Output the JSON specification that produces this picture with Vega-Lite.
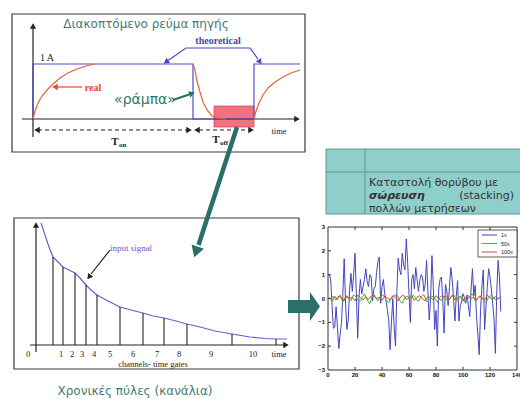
{
  "$schema": "https://vega.github.io/schema/vega-lite/v6.json",
  "width": 520,
  "height": 399,
  "autosize": {"type": "none"},
  "padding": 0,
  "background": "white",
  "config": {"view": {"stroke": null}},
  "datasets": {
    "noise": [
      {"s":"1x","t":1,"v":1.0},{"s":"1x","t":2,"v":0.8},{"s":"1x","t":3,"v":-0.3},{"s":"1x","t":4,"v":-1.25},{"s":"1x","t":5,"v":-1.2},{"s":"1x","t":6,"v":-0.35},{"s":"1x","t":7,"v":-1.2},{"s":"1x","t":8,"v":-2.1},{"s":"1x","t":9,"v":-1.5},{"s":"1x","t":10,"v":-1.0},
      {"s":"1x","t":11,"v":0.2},{"s":"1x","t":12,"v":1.67},{"s":"1x","t":13,"v":-0.2},{"s":"1x","t":14,"v":-1.3},{"s":"1x","t":15,"v":-0.9},{"s":"1x","t":16,"v":0.35},{"s":"1x","t":17,"v":1.05},{"s":"1x","t":18,"v":0.3},{"s":"1x","t":19,"v":1.0},{"s":"1x","t":20,"v":1.9},
      {"s":"1x","t":21,"v":0.2},{"s":"1x","t":22,"v":-1.67},{"s":"1x","t":23,"v":0.1},{"s":"1x","t":24,"v":0.8},{"s":"1x","t":25,"v":0.2},{"s":"1x","t":26,"v":0.5},{"s":"1x","t":27,"v":0.8},{"s":"1x","t":28,"v":1.25},{"s":"1x","t":29,"v":0.7},{"s":"1x","t":30,"v":0.5},
      {"s":"1x","t":31,"v":1.0},{"s":"1x","t":32,"v":0.9},{"s":"1x","t":33,"v":-0.1},{"s":"1x","t":34,"v":0.4},{"s":"1x","t":35,"v":0.5},{"s":"1x","t":36,"v":1.1},{"s":"1x","t":37,"v":1.55},{"s":"1x","t":38,"v":1.74},{"s":"1x","t":39,"v":-0.2},{"s":"1x","t":40,"v":0.5},
      {"s":"1x","t":41,"v":0.8},{"s":"1x","t":42,"v":0.2},{"s":"1x","t":43,"v":-0.1},{"s":"1x","t":44,"v":-0.5},{"s":"1x","t":45,"v":-0.9},{"s":"1x","t":46,"v":-2.15},{"s":"1x","t":47,"v":-1.0},{"s":"1x","t":48,"v":0.0},{"s":"1x","t":49,"v":-1.2},{"s":"1x","t":50,"v":-2.0},
      {"s":"1x","t":51,"v":0.3},{"s":"1x","t":52,"v":1.7},{"s":"1x","t":53,"v":1.2},{"s":"1x","t":54,"v":1.0},{"s":"1x","t":55,"v":1.9},{"s":"1x","t":56,"v":1.4},{"s":"1x","t":57,"v":1.2},{"s":"1x","t":58,"v":2.5},{"s":"1x","t":59,"v":1.5},{"s":"1x","t":60,"v":0.2},
      {"s":"1x","t":61,"v":-1.0},{"s":"1x","t":62,"v":0.8},{"s":"1x","t":63,"v":1.0},{"s":"1x","t":64,"v":0.4},{"s":"1x","t":65,"v":1.3},{"s":"1x","t":66,"v":0.8},{"s":"1x","t":67,"v":0.3},{"s":"1x","t":68,"v":0.76},{"s":"1x","t":69,"v":1.0},{"s":"1x","t":70,"v":0.9},
      {"s":"1x","t":71,"v":0.3},{"s":"1x","t":72,"v":0.6},{"s":"1x","t":73,"v":1.6},{"s":"1x","t":74,"v":0.3},{"s":"1x","t":75,"v":-0.9},{"s":"1x","t":76,"v":0.0},{"s":"1x","t":77,"v":1.8},{"s":"1x","t":78,"v":0.5},{"s":"1x","t":79,"v":-1.3},{"s":"1x","t":80,"v":-0.5},
      {"s":"1x","t":81,"v":-2.0},{"s":"1x","t":82,"v":0.4},{"s":"1x","t":83,"v":0.8},{"s":"1x","t":84,"v":0.9},{"s":"1x","t":85,"v":0.0},{"s":"1x","t":86,"v":-1.45},{"s":"1x","t":87,"v":0.6},{"s":"1x","t":88,"v":0.3},{"s":"1x","t":89,"v":-0.3},{"s":"1x","t":90,"v":0.5},
      {"s":"1x","t":91,"v":1.3},{"s":"1x","t":92,"v":0.8},{"s":"1x","t":93,"v":0.0},{"s":"1x","t":94,"v":-0.95},{"s":"1x","t":95,"v":0.1},{"s":"1x","t":96,"v":0.75},{"s":"1x","t":97,"v":-0.95},{"s":"1x","t":98,"v":-0.3},{"s":"1x","t":99,"v":-0.15},{"s":"1x","t":100,"v":0.2},
      {"s":"1x","t":101,"v":0.05},{"s":"1x","t":102,"v":-0.2},{"s":"1x","t":103,"v":0.15},{"s":"1x","t":104,"v":-0.3},{"s":"1x","t":105,"v":-0.76},{"s":"1x","t":106,"v":0.4},{"s":"1x","t":107,"v":1.25},{"s":"1x","t":108,"v":0.1},{"s":"1x","t":109,"v":0.55},{"s":"1x","t":110,"v":-0.75},
      {"s":"1x","t":111,"v":-1.5},{"s":"1x","t":112,"v":-2.36},{"s":"1x","t":113,"v":-0.5},{"s":"1x","t":114,"v":0.5},{"s":"1x","t":115,"v":1.2},{"s":"1x","t":116,"v":-1.3},{"s":"1x","t":117,"v":-0.4},{"s":"1x","t":118,"v":0.5},{"s":"1x","t":119,"v":1.25},{"s":"1x","t":120,"v":0.9},
      {"s":"1x","t":121,"v":0.4},{"s":"1x","t":122,"v":-0.2},{"s":"1x","t":123,"v":-0.9},{"s":"1x","t":124,"v":-2.3},{"s":"1x","t":125,"v":0.3},{"s":"1x","t":126,"v":1.6},{"s":"1x","t":127,"v":0.9},{"s":"1x","t":128,"v":-0.55},
      {"s":"50x","t":1,"v":0.05},{"s":"50x","t":3,"v":-0.12},{"s":"50x","t":5,"v":0.1},{"s":"50x","t":7,"v":-0.04},{"s":"50x","t":9,"v":0.14},{"s":"50x","t":11,"v":-0.16},{"s":"50x","t":13,"v":0.08},{"s":"50x","t":15,"v":0.02},{"s":"50x","t":17,"v":-0.1},{"s":"50x","t":19,"v":0.16},
      {"s":"50x","t":21,"v":0.04},{"s":"50x","t":23,"v":-0.14},{"s":"50x","t":25,"v":0.0},{"s":"50x","t":27,"v":0.2},{"s":"50x","t":29,"v":-0.06},{"s":"50x","t":31,"v":-0.22},{"s":"50x","t":33,"v":0.12},{"s":"50x","t":35,"v":0.06},{"s":"50x","t":37,"v":-0.1},{"s":"50x","t":39,"v":0.1},
      {"s":"50x","t":41,"v":0.15},{"s":"50x","t":43,"v":-0.04},{"s":"50x","t":45,"v":-0.18},{"s":"50x","t":47,"v":0.02},{"s":"50x","t":49,"v":0.12},{"s":"50x","t":51,"v":0.16},{"s":"50x","t":53,"v":-0.08},{"s":"50x","t":55,"v":-0.2},{"s":"50x","t":57,"v":0.04},{"s":"50x","t":59,"v":0.1},
      {"s":"50x","t":61,"v":-0.06},{"s":"50x","t":63,"v":0.14},{"s":"50x","t":65,"v":0.0},{"s":"50x","t":67,"v":-0.12},{"s":"50x","t":69,"v":0.08},{"s":"50x","t":71,"v":0.16},{"s":"50x","t":73,"v":-0.14},{"s":"50x","t":75,"v":-0.04},{"s":"50x","t":77,"v":0.1},{"s":"50x","t":79,"v":0.02},
      {"s":"50x","t":81,"v":-0.16},{"s":"50x","t":83,"v":0.06},{"s":"50x","t":85,"v":0.14},{"s":"50x","t":87,"v":-0.02},{"s":"50x","t":89,"v":-0.1},{"s":"50x","t":91,"v":0.06},{"s":"50x","t":93,"v":0.18},{"s":"50x","t":95,"v":-0.08},{"s":"50x","t":97,"v":0.0},{"s":"50x","t":99,"v":0.12},
      {"s":"50x","t":101,"v":-0.14},{"s":"50x","t":103,"v":-0.06},{"s":"50x","t":105,"v":0.08},{"s":"50x","t":107,"v":0.2},{"s":"50x","t":109,"v":-0.1},{"s":"50x","t":111,"v":0.02},{"s":"50x","t":113,"v":0.1},{"s":"50x","t":115,"v":-0.06},{"s":"50x","t":117,"v":-0.16},{"s":"50x","t":119,"v":0.04},
      {"s":"50x","t":121,"v":0.14},{"s":"50x","t":123,"v":0.0},{"s":"50x","t":125,"v":-0.08},{"s":"50x","t":127,"v":0.04},
      {"s":"100x","t":2,"v":0.02},{"s":"100x","t":4,"v":0.08},{"s":"100x","t":6,"v":-0.06},{"s":"100x","t":8,"v":0.1},{"s":"100x","t":10,"v":0.04},{"s":"100x","t":12,"v":-0.08},{"s":"100x","t":14,"v":0.12},{"s":"100x","t":16,"v":-0.02},{"s":"100x","t":18,"v":0.06},{"s":"100x","t":20,"v":-0.1},
      {"s":"100x","t":22,"v":0.14},{"s":"100x","t":24,"v":0.04},{"s":"100x","t":26,"v":-0.06},{"s":"100x","t":28,"v":0.08},{"s":"100x","t":30,"v":-0.04},{"s":"100x","t":32,"v":0.1},{"s":"100x","t":34,"v":0.16},{"s":"100x","t":36,"v":-0.02},{"s":"100x","t":38,"v":0.06},{"s":"100x","t":40,"v":-0.08},
      {"s":"100x","t":42,"v":0.1},{"s":"100x","t":44,"v":0.02},{"s":"100x","t":46,"v":-0.06},{"s":"100x","t":48,"v":0.12},{"s":"100x","t":50,"v":0.04},{"s":"100x","t":52,"v":-0.1},{"s":"100x","t":54,"v":0.08},{"s":"100x","t":56,"v":0.14},{"s":"100x","t":58,"v":-0.04},{"s":"100x","t":60,"v":0.02},
      {"s":"100x","t":62,"v":0.1},{"s":"100x","t":64,"v":-0.08},{"s":"100x","t":66,"v":0.06},{"s":"100x","t":68,"v":0.12},{"s":"100x","t":70,"v":-0.02},{"s":"100x","t":72,"v":-0.1},{"s":"100x","t":74,"v":0.08},{"s":"100x","t":76,"v":0.04},{"s":"100x","t":78,"v":-0.06},{"s":"100x","t":80,"v":0.12},
      {"s":"100x","t":82,"v":0.0},{"s":"100x","t":84,"v":-0.08},{"s":"100x","t":86,"v":0.1},{"s":"100x","t":88,"v":0.06},{"s":"100x","t":90,"v":-0.04},{"s":"100x","t":92,"v":0.14},{"s":"100x","t":94,"v":-0.06},{"s":"100x","t":96,"v":0.02},{"s":"100x","t":98,"v":0.08},{"s":"100x","t":100,"v":-0.1},
      {"s":"100x","t":102,"v":0.04},{"s":"100x","t":104,"v":0.12},{"s":"100x","t":106,"v":-0.02},{"s":"100x","t":108,"v":0.06},{"s":"100x","t":110,"v":-0.08},{"s":"100x","t":112,"v":0.1},{"s":"100x","t":114,"v":0.02},{"s":"100x","t":116,"v":-0.06},{"s":"100x","t":118,"v":0.14},{"s":"100x","t":120,"v":0.04},
      {"s":"100x","t":122,"v":-0.04},{"s":"100x","t":124,"v":0.08},{"s":"100x","t":126,"v":0.0},{"s":"100x","t":128,"v":0.06}
    ]
  },
  "layer": [
    {
      "layer": [
        {
          "data": {"values": [{"x0":12,"x1":305,"y0":14,"y1":152},{"x0":14,"x1":299,"y0":218,"y1":369}]},
          "mark": {"type": "rect", "filled": false, "stroke": "#3a3a3a", "strokeWidth": 1.2},
          "encoding": {
            "x": {"field": "x0", "type": "quantitative", "scale": {"domain": [0, 520], "range": [0, 520], "nice": false, "zero": false}, "axis": null},
            "x2": {"field": "x1"},
            "y": {"field": "y0", "type": "quantitative", "scale": {"domain": [0, 399], "range": [0, 399], "nice": false, "zero": false}, "axis": null},
            "y2": {"field": "y1"}
          }
        },
        {
          "data": {"values": [{"x0":326,"x1":522,"y0":149,"y1":214}]},
          "mark": {"type": "rect", "fill": "#8fcfcb", "stroke": "#5f9593", "strokeWidth": 1},
          "encoding": {
            "x": {"field": "x0", "type": "quantitative", "scale": {"domain": [0, 520], "range": [0, 520], "nice": false, "zero": false}, "axis": null},
            "x2": {"field": "x1"},
            "y": {"field": "y0", "type": "quantitative", "scale": {"domain": [0, 399], "range": [0, 399], "nice": false, "zero": false}, "axis": null},
            "y2": {"field": "y1"}
          }
        },
        {
          "data": {"values": [{"x0":326,"x1":522,"y0":172,"y1":172},{"x0":365,"x1":365,"y0":149,"y1":214}]},
          "mark": {"type": "rule", "stroke": "#5f9593", "strokeWidth": 1},
          "encoding": {
            "x": {"field": "x0", "type": "quantitative", "scale": {"domain": [0, 520], "range": [0, 520], "nice": false, "zero": false}, "axis": null},
            "x2": {"field": "x1"},
            "y": {"field": "y0", "type": "quantitative", "scale": {"domain": [0, 399], "range": [0, 399], "nice": false, "zero": false}, "axis": null},
            "y2": {"field": "y1"}
          }
        },
        {
          "data": {"values": [{"x0":214,"x1":254,"y0":106,"y1":127}]},
          "mark": {"type": "rect", "fill": "#f3717c", "stroke": "#cf5262", "strokeWidth": 0.8},
          "encoding": {
            "x": {"field": "x0", "type": "quantitative", "scale": {"domain": [0, 520], "range": [0, 520], "nice": false, "zero": false}, "axis": null},
            "x2": {"field": "x1"},
            "y": {"field": "y0", "type": "quantitative", "scale": {"domain": [0, 399], "range": [0, 399], "nice": false, "zero": false}, "axis": null},
            "y2": {"field": "y1"}
          }
        },
        {
          "data": {"values": [{"x0":33,"x1":33,"y0":28,"y1":137},{"x0":22,"x1":295,"y0":119,"y1":119},{"x0":36,"x1":36,"y0":227,"y1":352},{"x0":30,"x1":284,"y0":345,"y1":345}]},
          "mark": {"type": "rule", "stroke": "#222222", "strokeWidth": 1.2},
          "encoding": {
            "x": {"field": "x0", "type": "quantitative", "scale": {"domain": [0, 520], "range": [0, 520], "nice": false, "zero": false}, "axis": null},
            "x2": {"field": "x1"},
            "y": {"field": "y0", "type": "quantitative", "scale": {"domain": [0, 399], "range": [0, 399], "nice": false, "zero": false}, "axis": null},
            "y2": {"field": "y1"}
          }
        },
        {
          "data": {"values": [{"x0":38,"x1":187,"y0":130,"y1":130},{"x0":199,"x1":249,"y0":130,"y1":130}]},
          "mark": {"type": "rule", "stroke": "#222222", "strokeWidth": 1.1, "strokeDash": [4, 3]},
          "encoding": {
            "x": {"field": "x0", "type": "quantitative", "scale": {"domain": [0, 520], "range": [0, 520], "nice": false, "zero": false}, "axis": null},
            "x2": {"field": "x1"},
            "y": {"field": "y0", "type": "quantitative", "scale": {"domain": [0, 399], "range": [0, 399], "nice": false, "zero": false}, "axis": null},
            "y2": {"field": "y1"}
          }
        },
        {
          "data": {"values": [{"i":0,"x":33,"y":119},{"i":1,"x":33,"y":64},{"i":2,"x":193,"y":64},{"i":3,"x":193,"y":119},{"i":4,"x":254,"y":119},{"i":5,"x":254,"y":64},{"i":6,"x":300,"y":64}]},
          "mark": {"type": "line", "stroke": "#4f4fc6", "strokeWidth": 1.2},
          "encoding": {
            "x": {"field": "x", "type": "quantitative", "scale": {"domain": [0, 520], "range": [0, 520], "nice": false, "zero": false}, "axis": null},
            "y": {"field": "y", "type": "quantitative", "scale": {"domain": [0, 399], "range": [0, 399], "nice": false, "zero": false}, "axis": null},
            "order": {"field": "i"}
          }
        },
        {
          "data": {"values": [
            {"seg":"a","x":33,"y":119},{"seg":"a","x":35,"y":111},{"seg":"a","x":38,"y":103},{"seg":"a","x":42,"y":96},{"seg":"a","x":47,"y":90},{"seg":"a","x":53,"y":84},{"seg":"a","x":60,"y":78},{"seg":"a","x":68,"y":73},{"seg":"a","x":77,"y":69},{"seg":"a","x":86,"y":66},{"seg":"a","x":95,"y":64},
            {"seg":"b","x":193,"y":64},{"seg":"b","x":195,"y":70},{"seg":"b","x":197,"y":81},{"seg":"b","x":200,"y":92},{"seg":"b","x":203,"y":102},{"seg":"b","x":207,"y":110},{"seg":"b","x":212,"y":116},{"seg":"b","x":218,"y":118.5},{"seg":"b","x":226,"y":119},
            {"seg":"c","x":254,"y":119},{"seg":"c","x":256,"y":111},{"seg":"c","x":259,"y":103},{"seg":"c","x":263,"y":95},{"seg":"c","x":268,"y":88},{"seg":"c","x":275,"y":82},{"seg":"c","x":283,"y":77},{"seg":"c","x":291,"y":73},{"seg":"c","x":300,"y":70}
          ]},
          "mark": {"type": "line", "stroke": "#e2653f", "strokeWidth": 1.2},
          "encoding": {
            "x": {"field": "x", "type": "quantitative", "scale": {"domain": [0, 520], "range": [0, 520], "nice": false, "zero": false}, "axis": null},
            "y": {"field": "y", "type": "quantitative", "scale": {"domain": [0, 399], "range": [0, 399], "nice": false, "zero": false}, "axis": null},
            "detail": {"field": "seg"}
          }
        },
        {
          "data": {"values": [
            {"x":41,"y":223},{"x":45,"y":235},{"x":49,"y":247},{"x":53,"y":257},{"x":58,"y":262},{"x":63,"y":267},{"x":69,"y":270},{"x":75,"y":273},{"x":80,"y":278},{"x":86,"y":285},{"x":91,"y":290},{"x":97,"y":295},{"x":108,"y":301},{"x":120,"y":307},{"x":131,"y":310},{"x":143,"y":313},{"x":153,"y":316},{"x":164,"y":318},{"x":176,"y":321},{"x":187,"y":324},{"x":200,"y":327},{"x":215,"y":331},{"x":232,"y":334},{"x":250,"y":337},{"x":265,"y":338.5},{"x":276,"y":339},{"x":287,"y":339}
          ]},
          "mark": {"type": "line", "stroke": "#6262c8", "strokeWidth": 1.2},
          "encoding": {
            "x": {"field": "x", "type": "quantitative", "scale": {"domain": [0, 520], "range": [0, 520], "nice": false, "zero": false}, "axis": null},
            "y": {"field": "y", "type": "quantitative", "scale": {"domain": [0, 399], "range": [0, 399], "nice": false, "zero": false}, "axis": null}
          }
        },
        {
          "data": {"values": [{"x":53,"y":257},{"x":63,"y":267},{"x":75,"y":273},{"x":86,"y":285},{"x":97,"y":295},{"x":120,"y":307},{"x":143,"y":313},{"x":164,"y":318},{"x":187,"y":324},{"x":232,"y":334},{"x":276,"y":339}]},
          "mark": {"type": "rule", "stroke": "#222222", "strokeWidth": 1.1},
          "encoding": {
            "x": {"field": "x", "type": "quantitative", "scale": {"domain": [0, 520], "range": [0, 520], "nice": false, "zero": false}, "axis": null},
            "y": {"field": "y", "type": "quantitative", "scale": {"domain": [0, 399], "range": [0, 399], "nice": false, "zero": false}, "axis": null},
            "y2": {"datum": 345}
          }
        },
        {
          "data": {"values": [{"i":0,"x":82,"y":87},{"i":1,"x":57,"y":87}]},
          "mark": {"type": "line", "stroke": "#e0483a", "strokeWidth": 1.2},
          "encoding": {
            "x": {"field": "x", "type": "quantitative", "scale": {"domain": [0, 520], "range": [0, 520], "nice": false, "zero": false}, "axis": null},
            "y": {"field": "y", "type": "quantitative", "scale": {"domain": [0, 399], "range": [0, 399], "nice": false, "zero": false}, "axis": null},
            "order": {"field": "i"}
          }
        },
        {
          "data": {"values": [{"i":0,"x":168,"y":60.5},{"i":1,"x":186,"y":48},{"i":2,"x":250,"y":48},{"i":3,"x":258,"y":59}]},
          "mark": {"type": "line", "stroke": "#4848c0", "strokeWidth": 1.2},
          "encoding": {
            "x": {"field": "x", "type": "quantitative", "scale": {"domain": [0, 520], "range": [0, 520], "nice": false, "zero": false}, "axis": null},
            "y": {"field": "y", "type": "quantitative", "scale": {"domain": [0, 399], "range": [0, 399], "nice": false, "zero": false}, "axis": null},
            "order": {"field": "i"}
          }
        },
        {
          "data": {"values": [{"i":0,"x":173,"y":100},{"i":1,"x":189,"y":94.5}]},
          "mark": {"type": "line", "stroke": "#2c6e69", "strokeWidth": 2.2},
          "encoding": {
            "x": {"field": "x", "type": "quantitative", "scale": {"domain": [0, 520], "range": [0, 520], "nice": false, "zero": false}, "axis": null},
            "y": {"field": "y", "type": "quantitative", "scale": {"domain": [0, 399], "range": [0, 399], "nice": false, "zero": false}, "axis": null},
            "order": {"field": "i"}
          }
        },
        {
          "data": {"values": [{"i":0,"x":237,"y":127},{"i":1,"x":198.5,"y":245}]},
          "mark": {"type": "line", "stroke": "#2c6e69", "strokeWidth": 4.5},
          "encoding": {
            "x": {"field": "x", "type": "quantitative", "scale": {"domain": [0, 520], "range": [0, 520], "nice": false, "zero": false}, "axis": null},
            "y": {"field": "y", "type": "quantitative", "scale": {"domain": [0, 399], "range": [0, 399], "nice": false, "zero": false}, "axis": null},
            "order": {"field": "i"}
          }
        },
        {
          "data": {"values": [{"i":0,"x":110,"y":250},{"i":1,"x":91,"y":274}]},
          "mark": {"type": "line", "stroke": "#222222", "strokeWidth": 1.2},
          "encoding": {
            "x": {"field": "x", "type": "quantitative", "scale": {"domain": [0, 520], "range": [0, 520], "nice": false, "zero": false}, "axis": null},
            "y": {"field": "y", "type": "quantitative", "scale": {"domain": [0, 399], "range": [0, 399], "nice": false, "zero": false}, "axis": null},
            "order": {"field": "i"}
          }
        },
        {
          "data": {"values": [{"x":33,"y":26},{"x":36,"y":225}]},
          "mark": {"type": "point", "shape": "triangle-up", "size": 40, "filled": true, "color": "#222222", "opacity": 1},
          "encoding": {
            "x": {"field": "x", "type": "quantitative", "scale": {"domain": [0, 520], "range": [0, 520], "nice": false, "zero": false}, "axis": null},
            "y": {"field": "y", "type": "quantitative", "scale": {"domain": [0, 399], "range": [0, 399], "nice": false, "zero": false}, "axis": null}
          }
        },
        {
          "data": {"values": [{"x":297,"y":119},{"x":286,"y":345},{"x":189,"y":130},{"x":251,"y":130}]},
          "mark": {"type": "point", "shape": "triangle-right", "size": 40, "filled": true, "color": "#222222", "opacity": 1},
          "encoding": {
            "x": {"field": "x", "type": "quantitative", "scale": {"domain": [0, 520], "range": [0, 520], "nice": false, "zero": false}, "axis": null},
            "y": {"field": "y", "type": "quantitative", "scale": {"domain": [0, 399], "range": [0, 399], "nice": false, "zero": false}, "axis": null}
          }
        },
        {
          "data": {"values": [{"x":37,"y":130},{"x":197,"y":130}]},
          "mark": {"type": "point", "shape": "triangle-left", "size": 40, "filled": true, "color": "#222222", "opacity": 1},
          "encoding": {
            "x": {"field": "x", "type": "quantitative", "scale": {"domain": [0, 520], "range": [0, 520], "nice": false, "zero": false}, "axis": null},
            "y": {"field": "y", "type": "quantitative", "scale": {"domain": [0, 399], "range": [0, 399], "nice": false, "zero": false}, "axis": null}
          }
        },
        {
          "data": {"values": [{"x":55,"y":87}]},
          "mark": {"type": "point", "shape": "triangle-left", "size": 40, "filled": true, "color": "#e0483a", "opacity": 1},
          "encoding": {
            "x": {"field": "x", "type": "quantitative", "scale": {"domain": [0, 520], "range": [0, 520], "nice": false, "zero": false}, "axis": null},
            "y": {"field": "y", "type": "quantitative", "scale": {"domain": [0, 399], "range": [0, 399], "nice": false, "zero": false}, "axis": null}
          }
        },
        {
          "data": {"values": [{"x":166,"y":62}]},
          "mark": {"type": "point", "shape": "triangle-up", "size": 40, "filled": true, "color": "#4848c0", "opacity": 1, "angle": 235},
          "encoding": {
            "x": {"field": "x", "type": "quantitative", "scale": {"domain": [0, 520], "range": [0, 520], "nice": false, "zero": false}, "axis": null},
            "y": {"field": "y", "type": "quantitative", "scale": {"domain": [0, 399], "range": [0, 399], "nice": false, "zero": false}, "axis": null}
          }
        },
        {
          "data": {"values": [{"x":260,"y":62}]},
          "mark": {"type": "point", "shape": "triangle-up", "size": 40, "filled": true, "color": "#4848c0", "opacity": 1, "angle": 145},
          "encoding": {
            "x": {"field": "x", "type": "quantitative", "scale": {"domain": [0, 520], "range": [0, 520], "nice": false, "zero": false}, "axis": null},
            "y": {"field": "y", "type": "quantitative", "scale": {"domain": [0, 399], "range": [0, 399], "nice": false, "zero": false}, "axis": null}
          }
        },
        {
          "data": {"values": [{"x":192,"y":93.5}]},
          "mark": {"type": "point", "shape": "triangle-up", "size": 45, "filled": true, "color": "#2c6e69", "opacity": 1, "angle": 71},
          "encoding": {
            "x": {"field": "x", "type": "quantitative", "scale": {"domain": [0, 520], "range": [0, 520], "nice": false, "zero": false}, "axis": null},
            "y": {"field": "y", "type": "quantitative", "scale": {"domain": [0, 399], "range": [0, 399], "nice": false, "zero": false}, "axis": null}
          }
        },
        {
          "data": {"values": [{"x":196,"y":252}]},
          "mark": {"type": "point", "shape": "triangle-up", "size": 170, "filled": true, "color": "#2c6e69", "opacity": 1, "angle": 198},
          "encoding": {
            "x": {"field": "x", "type": "quantitative", "scale": {"domain": [0, 520], "range": [0, 520], "nice": false, "zero": false}, "axis": null},
            "y": {"field": "y", "type": "quantitative", "scale": {"domain": [0, 399], "range": [0, 399], "nice": false, "zero": false}, "axis": null}
          }
        },
        {
          "data": {"values": [{"x":89,"y":277}]},
          "mark": {"type": "point", "shape": "triangle-up", "size": 40, "filled": true, "color": "#222222", "opacity": 1, "angle": 218},
          "encoding": {
            "x": {"field": "x", "type": "quantitative", "scale": {"domain": [0, 520], "range": [0, 520], "nice": false, "zero": false}, "axis": null},
            "y": {"field": "y", "type": "quantitative", "scale": {"domain": [0, 399], "range": [0, 399], "nice": false, "zero": false}, "axis": null}
          }
        },
        {
          "data": {"values": [{"x":146,"y":24,"label":"Διακοπτόμενο ρεύμα πηγής"},{"x":135,"y":391,"label":"Χρονικές πύλες (κανάλια)"}]},
          "mark": {"type": "text", "font": "DejaVu Sans", "fontSize": 12, "color": "#3f7b78", "baseline": "middle", "align": "center"},
          "encoding": {
            "x": {"field": "x", "type": "quantitative", "scale": {"domain": [0, 520], "range": [0, 520], "nice": false, "zero": false}, "axis": null},
            "y": {"field": "y", "type": "quantitative", "scale": {"domain": [0, 399], "range": [0, 399], "nice": false, "zero": false}, "axis": null},
            "text": {"field": "label"}
          }
        },
        {
          "data": {"values": [{"x":145,"y":100,"label":"«ράμπα»"}]},
          "mark": {"type": "text", "font": "DejaVu Sans", "fontSize": 14, "color": "#2c7a6b", "baseline": "middle", "align": "center"},
          "encoding": {
            "x": {"field": "x", "type": "quantitative", "scale": {"domain": [0, 520], "range": [0, 520], "nice": false, "zero": false}, "axis": null},
            "y": {"field": "y", "type": "quantitative", "scale": {"domain": [0, 399], "range": [0, 399], "nice": false, "zero": false}, "axis": null},
            "text": {"field": "label"}
          }
        },
        {
          "data": {"values": [{"x":47,"y":58,"label":"1 A"}]},
          "mark": {"type": "text", "font": "Liberation Serif", "fontSize": 10, "color": "#222222", "baseline": "middle", "align": "center"},
          "encoding": {
            "x": {"field": "x", "type": "quantitative", "scale": {"domain": [0, 520], "range": [0, 520], "nice": false, "zero": false}, "axis": null},
            "y": {"field": "y", "type": "quantitative", "scale": {"domain": [0, 399], "range": [0, 399], "nice": false, "zero": false}, "axis": null},
            "text": {"field": "label"}
          }
        },
        {
          "data": {"values": [
            {"x":279,"y":131,"label":"time"},{"x":279,"y":354,"label":"time"},{"x":153,"y":364,"label":"channels- time gates"},
            {"x":28,"y":354,"label":"0"},{"x":61,"y":354,"label":"1"},{"x":72,"y":354,"label":"2"},{"x":82,"y":354,"label":"3"},{"x":94,"y":354,"label":"4"},{"x":110,"y":354,"label":"5"},{"x":133,"y":354,"label":"6"},{"x":157,"y":354,"label":"7"},{"x":179,"y":354,"label":"8"},{"x":211,"y":354,"label":"9"},{"x":253,"y":354,"label":"10"}
          ]},
          "mark": {"type": "text", "font": "Liberation Serif", "fontSize": 8.5, "color": "#222222", "baseline": "middle", "align": "center"},
          "encoding": {
            "x": {"field": "x", "type": "quantitative", "scale": {"domain": [0, 520], "range": [0, 520], "nice": false, "zero": false}, "axis": null},
            "y": {"field": "y", "type": "quantitative", "scale": {"domain": [0, 399], "range": [0, 399], "nice": false, "zero": false}, "axis": null},
            "text": {"field": "label"}
          }
        },
        {
          "data": {"values": [{"x":115,"y":142,"label":"T"},{"x":216,"y":140,"label":"T"}]},
          "mark": {"type": "text", "font": "Liberation Serif", "fontSize": 11, "fontWeight": "bold", "color": "#222222", "baseline": "middle", "align": "center"},
          "encoding": {
            "x": {"field": "x", "type": "quantitative", "scale": {"domain": [0, 520], "range": [0, 520], "nice": false, "zero": false}, "axis": null},
            "y": {"field": "y", "type": "quantitative", "scale": {"domain": [0, 399], "range": [0, 399], "nice": false, "zero": false}, "axis": null},
            "text": {"field": "label"}
          }
        },
        {
          "data": {"values": [{"x":119,"y":145,"label":"on"},{"x":220,"y":143,"label":"off"}]},
          "mark": {"type": "text", "font": "Liberation Serif", "fontSize": 7, "fontWeight": "bold", "color": "#222222", "baseline": "middle", "align": "left"},
          "encoding": {
            "x": {"field": "x", "type": "quantitative", "scale": {"domain": [0, 520], "range": [0, 520], "nice": false, "zero": false}, "axis": null},
            "y": {"field": "y", "type": "quantitative", "scale": {"domain": [0, 399], "range": [0, 399], "nice": false, "zero": false}, "axis": null},
            "text": {"field": "label"}
          }
        },
        {
          "data": {"values": [{"x":93,"y":88,"label":"real"}]},
          "mark": {"type": "text", "font": "Liberation Serif", "fontSize": 10, "fontWeight": "bold", "color": "#e0483a", "baseline": "middle", "align": "center"},
          "encoding": {
            "x": {"field": "x", "type": "quantitative", "scale": {"domain": [0, 520], "range": [0, 520], "nice": false, "zero": false}, "axis": null},
            "y": {"field": "y", "type": "quantitative", "scale": {"domain": [0, 399], "range": [0, 399], "nice": false, "zero": false}, "axis": null},
            "text": {"field": "label"}
          }
        },
        {
          "data": {"values": [{"x":218,"y":41,"label":"theoretical"}]},
          "mark": {"type": "text", "font": "Liberation Serif", "fontSize": 10, "fontWeight": "bold", "color": "#4646b4", "baseline": "middle", "align": "center"},
          "encoding": {
            "x": {"field": "x", "type": "quantitative", "scale": {"domain": [0, 520], "range": [0, 520], "nice": false, "zero": false}, "axis": null},
            "y": {"field": "y", "type": "quantitative", "scale": {"domain": [0, 399], "range": [0, 399], "nice": false, "zero": false}, "axis": null},
            "text": {"field": "label"}
          }
        },
        {
          "data": {"values": [{"x":131,"y":248,"label":"input signal"}]},
          "mark": {"type": "text", "font": "Liberation Serif", "fontSize": 9, "color": "#6a5acd", "baseline": "middle", "align": "center"},
          "encoding": {
            "x": {"field": "x", "type": "quantitative", "scale": {"domain": [0, 520], "range": [0, 520], "nice": false, "zero": false}, "axis": null},
            "y": {"field": "y", "type": "quantitative", "scale": {"domain": [0, 399], "range": [0, 399], "nice": false, "zero": false}, "axis": null},
            "text": {"field": "label"}
          }
        },
        {
          "data": {"values": [{"x":369,"y":182.5,"label":"Καταστολή θορύβου με"},{"x":369,"y":208.5,"label":"πολλών μετρήσεων"}]},
          "mark": {"type": "text", "font": "DejaVu Sans", "fontSize": 11, "color": "#333333", "baseline": "middle", "align": "left"},
          "encoding": {
            "x": {"field": "x", "type": "quantitative", "scale": {"domain": [0, 520], "range": [0, 520], "nice": false, "zero": false}, "axis": null},
            "y": {"field": "y", "type": "quantitative", "scale": {"domain": [0, 399], "range": [0, 399], "nice": false, "zero": false}, "axis": null},
            "text": {"field": "label"}
          }
        },
        {
          "data": {"values": [{"x":369,"y":195.5,"label":"σώρευση"}]},
          "mark": {"type": "text", "font": "DejaVu Sans", "fontSize": 11, "fontWeight": "bold", "fontStyle": "italic", "color": "#333333", "baseline": "middle", "align": "left"},
          "encoding": {
            "x": {"field": "x", "type": "quantitative", "scale": {"domain": [0, 520], "range": [0, 520], "nice": false, "zero": false}, "axis": null},
            "y": {"field": "y", "type": "quantitative", "scale": {"domain": [0, 399], "range": [0, 399], "nice": false, "zero": false}, "axis": null},
            "text": {"field": "label"}
          }
        },
        {
          "data": {"values": [{"x":514,"y":195.5,"label":"(stacking)"}]},
          "mark": {"type": "text", "font": "DejaVu Sans", "fontSize": 11, "color": "#333333", "baseline": "middle", "align": "right"},
          "encoding": {
            "x": {"field": "x", "type": "quantitative", "scale": {"domain": [0, 520], "range": [0, 520], "nice": false, "zero": false}, "axis": null},
            "y": {"field": "y", "type": "quantitative", "scale": {"domain": [0, 399], "range": [0, 399], "nice": false, "zero": false}, "axis": null},
            "text": {"field": "label"}
          }
        }
      ]
    },
    {
      "layer": [
        {
          "data": {"values": [{"t0":0,"t1":140,"v0":-3,"v1":3}]},
          "mark": {"type": "rect", "filled": false, "stroke": "#333333", "strokeWidth": 1},
          "encoding": {
            "x": {"field": "t0", "type": "quantitative", "scale": {"domain": [0, 140], "range": [328, 517], "nice": false, "zero": false}, "axis": null},
            "x2": {"field": "t1"},
            "y": {"field": "v0", "type": "quantitative", "scale": {"domain": [-3, 3], "range": [370, 227], "nice": false, "zero": false}, "axis": null},
            "y2": {"field": "v1"}
          }
        },
        {
          "data": {"values": [{"t":20},{"t":40},{"t":60},{"t":80},{"t":100},{"t":120}]},
          "layer": [
            {
              "mark": {"type": "rule", "stroke": "#333333", "strokeWidth": 1},
              "encoding": {
                "x": {"field": "t", "type": "quantitative", "scale": {"domain": [0, 140], "range": [328, 517], "nice": false, "zero": false}, "axis": null},
                "y": {"datum": -3, "type": "quantitative", "scale": {"domain": [-3, 3], "range": [370, 227], "nice": false, "zero": false}, "axis": null},
                "y2": {"datum": -2.87}
              }
            },
            {
              "mark": {"type": "rule", "stroke": "#333333", "strokeWidth": 1},
              "encoding": {
                "x": {"field": "t", "type": "quantitative", "scale": {"domain": [0, 140], "range": [328, 517], "nice": false, "zero": false}, "axis": null},
                "y": {"datum": 3, "type": "quantitative", "scale": {"domain": [-3, 3], "range": [370, 227], "nice": false, "zero": false}, "axis": null},
                "y2": {"datum": 2.87}
              }
            }
          ]
        },
        {
          "data": {"values": [{"v":-2},{"v":-1},{"v":0},{"v":1},{"v":2}]},
          "layer": [
            {
              "mark": {"type": "rule", "stroke": "#333333", "strokeWidth": 1},
              "encoding": {
                "y": {"field": "v", "type": "quantitative", "scale": {"domain": [-3, 3], "range": [370, 227], "nice": false, "zero": false}, "axis": null},
                "x": {"datum": 0, "type": "quantitative", "scale": {"domain": [0, 140], "range": [328, 517], "nice": false, "zero": false}, "axis": null},
                "x2": {"datum": 2.2}
              }
            },
            {
              "mark": {"type": "rule", "stroke": "#333333", "strokeWidth": 1},
              "encoding": {
                "y": {"field": "v", "type": "quantitative", "scale": {"domain": [-3, 3], "range": [370, 227], "nice": false, "zero": false}, "axis": null},
                "x": {"datum": 140, "type": "quantitative", "scale": {"domain": [0, 140], "range": [328, 517], "nice": false, "zero": false}, "axis": null},
                "x2": {"datum": 137.8}
              }
            }
          ]
        },
        {
          "data": {"name": "noise"},
          "mark": {"type": "line", "strokeWidth": 1},
          "encoding": {
            "x": {"field": "t", "type": "quantitative", "scale": {"domain": [0, 140], "range": [328, 517], "nice": false, "zero": false}, "axis": null},
            "y": {"field": "v", "type": "quantitative", "scale": {"domain": [-3, 3], "range": [370, 227], "nice": false, "zero": false}, "axis": null},
            "color": {"field": "s", "type": "nominal", "scale": {"domain": ["1x", "50x", "100x"], "range": ["#4444c2", "#2fbf3a", "#e0423a"]}, "legend": null}
          }
        },
        {
          "data": {"values": [{"t":0},{"t":20},{"t":40},{"t":60},{"t":80},{"t":100},{"t":120},{"t":140}]},
          "mark": {"type": "text", "font": "Liberation Sans", "fontSize": 6, "fontWeight": "bold", "color": "#111111", "baseline": "middle", "align": "center", "dy": 5},
          "encoding": {
            "x": {"field": "t", "type": "quantitative", "scale": {"domain": [0, 140], "range": [328, 517], "nice": false, "zero": false}, "axis": null},
            "y": {"datum": -3, "type": "quantitative", "scale": {"domain": [-3, 3], "range": [370, 227], "nice": false, "zero": false}, "axis": null},
            "text": {"field": "t", "type": "quantitative"}
          }
        },
        {
          "data": {"values": [{"v":-3},{"v":-2},{"v":-1},{"v":0},{"v":1},{"v":2},{"v":3}]},
          "mark": {"type": "text", "font": "Liberation Sans", "fontSize": 6, "fontWeight": "bold", "color": "#111111", "baseline": "middle", "align": "right", "dx": -3},
          "encoding": {
            "y": {"field": "v", "type": "quantitative", "scale": {"domain": [-3, 3], "range": [370, 227], "nice": false, "zero": false}, "axis": null},
            "x": {"datum": 0, "type": "quantitative", "scale": {"domain": [0, 140], "range": [328, 517], "nice": false, "zero": false}, "axis": null},
            "text": {"field": "v", "type": "quantitative"}
          }
        }
      ]
    },
    {
      "layer": [
        {
          "data": {"values": [{"x0":288,"x1":311,"y0":300,"y1":313}]},
          "mark": {"type": "rect", "fill": "#2c6e69"},
          "encoding": {
            "x": {"field": "x0", "type": "quantitative", "scale": {"domain": [0, 520], "range": [0, 520], "nice": false, "zero": false}, "axis": null},
            "x2": {"field": "x1"},
            "y": {"field": "y0", "type": "quantitative", "scale": {"domain": [0, 399], "range": [0, 399], "nice": false, "zero": false}, "axis": null},
            "y2": {"field": "y1"}
          }
        },
        {
          "data": {"values": [{"x":310,"y0":292,"y1":321},{"x":320,"y0":306.5,"y1":306.5}]},
          "mark": {"type": "area", "color": "#2c6e69", "opacity": 1},
          "encoding": {
            "x": {"field": "x", "type": "quantitative", "scale": {"domain": [0, 520], "range": [0, 520], "nice": false, "zero": false}, "axis": null},
            "y": {"field": "y0", "type": "quantitative", "scale": {"domain": [0, 399], "range": [0, 399], "nice": false, "zero": false}, "axis": null},
            "y2": {"field": "y1"}
          }
        },
        {
          "data": {"values": [{"x0":478,"x1":517,"y0":230,"y1":257}]},
          "mark": {"type": "rect", "fill": "white", "stroke": "#333333", "strokeWidth": 0.8},
          "encoding": {
            "x": {"field": "x0", "type": "quantitative", "scale": {"domain": [0, 520], "range": [0, 520], "nice": false, "zero": false}, "axis": null},
            "x2": {"field": "x1"},
            "y": {"field": "y0", "type": "quantitative", "scale": {"domain": [0, 399], "range": [0, 399], "nice": false, "zero": false}, "axis": null},
            "y2": {"field": "y1"}
          }
        },
        {
          "data": {"values": [{"s":"1x","x0":482,"x1":497,"y":235},{"s":"50x","x0":482,"x1":497,"y":243.5},{"s":"100x","x0":482,"x1":497,"y":252}]},
          "layer": [
            {
              "mark": {"type": "rule", "strokeWidth": 1},
              "encoding": {
                "x": {"field": "x0", "type": "quantitative", "scale": {"domain": [0, 520], "range": [0, 520], "nice": false, "zero": false}, "axis": null},
                "x2": {"field": "x1"},
                "y": {"field": "y", "type": "quantitative", "scale": {"domain": [0, 399], "range": [0, 399], "nice": false, "zero": false}, "axis": null},
                "color": {"field": "s", "type": "nominal", "scale": {"domain": ["1x", "50x", "100x"], "range": ["#4444c2", "#2fbf3a", "#e0423a"]}, "legend": null}
              }
            },
            {
              "mark": {"type": "text", "font": "Liberation Sans", "fontSize": 5.5, "color": "#222222", "baseline": "middle", "align": "left", "dx": 4},
              "encoding": {
                "x": {"field": "x1", "type": "quantitative", "scale": {"domain": [0, 520], "range": [0, 520], "nice": false, "zero": false}, "axis": null},
                "y": {"field": "y", "type": "quantitative", "scale": {"domain": [0, 399], "range": [0, 399], "nice": false, "zero": false}, "axis": null},
                "text": {"field": "s"}
              }
            }
          ]
        }
      ]
    }
  ],
  "resolve": {"scale": {"x": "independent", "y": "independent", "color": "independent"}}
}
